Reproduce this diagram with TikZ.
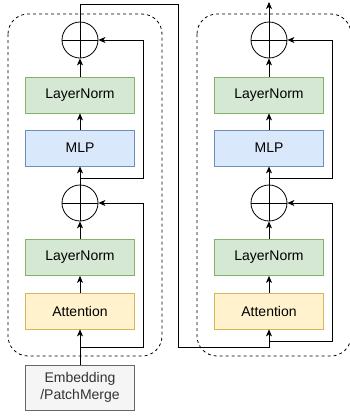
\documentclass[tikz,border=0pt]{standalone}
\usepackage{fontspec}
\setmainfont{Liberation Sans}
\usetikzlibrary{arrows.meta}

\definecolor{lnfill}{HTML}{D5E8D4}
\definecolor{lnline}{HTML}{82B366}
\definecolor{mlpfill}{HTML}{DAE8FC}
\definecolor{mlpline}{HTML}{6C8EBF}
\definecolor{attfill}{HTML}{FFF2CC}
\definecolor{attline}{HTML}{D6B656}
\definecolor{embfill}{HTML}{F5F5F5}
\definecolor{embline}{HTML}{666666}
\definecolor{embtext}{HTML}{333333}

\begin{document}
\begin{tikzpicture}[x=1pt, y=-1pt,
        block/.style={draw, line width=0.8pt, minimum width=109pt, minimum height=36pt,
            inner sep=0pt, font=\fontsize{14}{17}\selectfont},
        norm/.style={block, draw=lnline, fill=lnfill},
        mlpbox/.style={block, draw=mlpline, fill=mlpfill},
        attbox/.style={block, draw=attline, fill=attfill},
        embbox/.style={block, draw=embline, fill=embfill, text=embtext,
            minimum height=45pt, align=center},
        addop/.style={circle, draw, line width=0.8pt, minimum size=36pt, inner sep=0pt,
            path picture={\draw[line width=0.8pt]
                (path picture bounding box.west) -- (path picture bounding box.east)
                (path picture bounding box.north) -- (path picture bounding box.south);}},
        container/.style={draw=black, line width=0.8pt, dash pattern=on 3pt off 3pt,
            rounded corners=20pt},
        flow/.style={line width=0.8pt, -{Stealth[length=7pt, width=6pt, inset=2pt]}}
    ]

        \useasboundingbox (0,0) rectangle (349,416);

        % Input block
        \node[embbox] (emb) at (80,387.5) {Embedding\\/PatchMerge};

        % Two transformer blocks, the second one shifted to the right
        \foreach \dx/\s/\sy in {0/a/347, 189/b/341} {
            \draw[container] (8+\dx,14) rectangle (162+\dx,356);

            \node[attbox] (attn\s) at (80+\dx,311) {Attention};
            \node[norm] (ln2\s) at (80+\dx,257.5) {LayerNorm};
            \node[addop] (add2\s) at (80+\dx,203) {};
            \node[mlpbox] (mlp\s) at (80+\dx,148) {MLP};
            \node[norm] (ln1\s) at (80+\dx,95) {LayerNorm};
            \node[addop] (add1\s) at (80+\dx,40) {};

            % main path
            \draw[flow] (attn\s) -- (ln2\s);
            \draw[flow] (ln2\s) -- (add2\s);
            \draw[flow] (add2\s) -- (mlp\s);
            \draw[flow] (mlp\s) -- (ln1\s);
            \draw[flow] (ln1\s) -- (add1\s);

            % residual connections
            \coordinate (split1\s) at (80+\dx,\sy);
            \coordinate (split2\s) at (80+\dx,178);
            \draw[flow] (split1\s) -- ++(63,0) |- (add2\s.east);
            \draw[flow] (split2\s) -- ++(63,0) |- (add1\s.east);
        }

        % Links between the blocks
        \coordinate (out) at (269,2);
        \draw[flow] (emb) -- (attna);
        \draw[flow] (add1a.north) |- (178.5,4) -- (178.5,347) -| (attnb.south);
        \draw[flow] (add1b.north) -- (out);

    \end{tikzpicture}
\end{document}
